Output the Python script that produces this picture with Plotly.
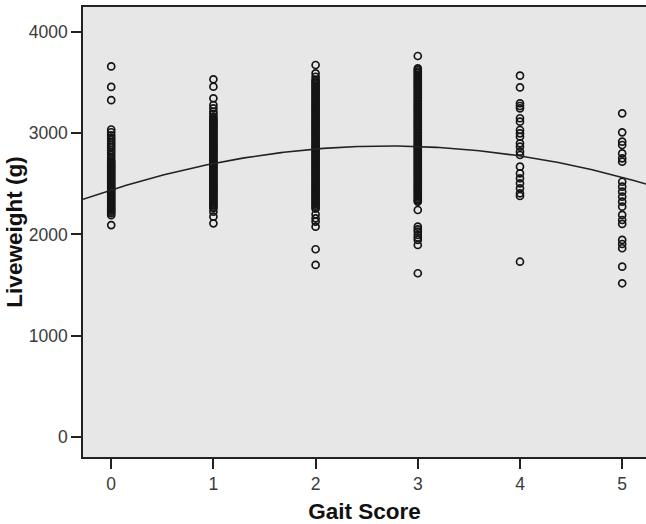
import plotly.graph_objects as go

# Gait score categories
scores = [0, 1, 2, 3, 4, 5]

# Liveweight (g) values, per gait score
lw_score0 = [3660, 3458, 3327,
             3037, 3010, 2980, 2955, 2932, 2905, 2882, 2860, 2833, 2810, 2784, 2760,
             2735, 2720, 2705, 2690, 2675, 2660, 2645, 2630, 2615, 2600, 2585,
             2570, 2555, 2540, 2525, 2510, 2495, 2480, 2465, 2450, 2435, 2420,
             2405, 2390, 2375, 2360, 2345, 2330, 2315, 2300, 2285, 2270, 2255,
             2240, 2225, 2210,
             2191, 2093]
lw_score1 = [3533, 3460, 3345, 3279, 3246, 3213, 3190, 3163, 3145,
             3130, 3115, 3100, 3085, 3070, 3055, 3040, 3025, 3010, 2995, 2980,
             2965, 2950, 2935, 2920, 2905, 2890, 2875, 2860, 2845, 2830, 2815,
             2800, 2785, 2770, 2755, 2740, 2725, 2710, 2695, 2680, 2665, 2650,
             2635, 2620, 2605, 2590, 2575, 2560, 2545, 2530, 2515, 2500, 2485,
             2470, 2455, 2440, 2425, 2410, 2395, 2380, 2365, 2350, 2335, 2320,
             2305, 2290, 2275, 2260,
             2225, 2176, 2110]
lw_score2 = [3674, 3592, 3558,
             3530, 3515, 3500, 3485, 3470, 3455, 3440, 3425, 3410, 3395, 3380,
             3365, 3350, 3335, 3320, 3305, 3290, 3275, 3260, 3245, 3230, 3215,
             3200, 3185, 3170, 3155, 3140, 3125, 3110, 3095, 3080, 3065, 3050,
             3035, 3020, 3005, 2990, 2975, 2960, 2945, 2930, 2915, 2900, 2885,
             2870, 2855, 2840, 2825, 2810, 2795, 2780, 2765, 2750, 2735, 2720,
             2705, 2690, 2675, 2660, 2645, 2630, 2615, 2600, 2585, 2570, 2555,
             2540, 2525, 2510, 2495, 2480, 2465, 2450, 2435, 2420, 2405, 2390,
             2375, 2360, 2345, 2330, 2315, 2300, 2285, 2270, 2255,
             2200, 2160, 2127, 2077, 1854, 1699]
lw_score3 = [3763,
             3640, 3625, 3610, 3595, 3580, 3565, 3550, 3535, 3520, 3505, 3490,
             3475, 3460, 3445, 3430, 3415, 3400, 3385, 3370, 3355, 3340, 3325,
             3310, 3295, 3280, 3265, 3250, 3235, 3220, 3205, 3190, 3175, 3160,
             3145, 3130, 3115, 3100, 3085, 3070, 3055, 3040, 3025, 3010, 2995,
             2980, 2965, 2950, 2935, 2920, 2905, 2890, 2875, 2860, 2845, 2830,
             2815, 2800, 2785, 2770, 2755, 2740, 2725, 2710, 2695, 2680, 2665,
             2650, 2635, 2620, 2605, 2590, 2575, 2560, 2545, 2530, 2515, 2500,
             2485, 2470, 2455, 2440, 2425, 2410, 2395, 2380, 2365, 2350, 2335,
             2325,
             2242, 2077, 2050, 2028, 1995, 1970, 1946, 1896, 1617]
lw_score4 = [3569, 3453, 3296, 3269, 3246, 3148, 3114, 3032, 2999, 2966,
             2900, 2867, 2818, 2785, 2670, 2604, 2555, 2505, 2456, 2407, 2380,
             1731]
lw_score5 = [3197, 3009, 2917, 2884, 2801, 2752, 2719, 2521, 2472, 2423,
             2373, 2324, 2275, 2193, 2143, 2104, 1946, 1906, 1864, 1682, 1518]

# Quadratic fit line coefficients (intercept, linear, quadratic)
fit_coef = [2440, 320, -59]
fit_x_range = [-0.276, 5.233]

y_ticks = [0, 1000, 2000, 3000, 4000]

groups = [lw_score0, lw_score1, lw_score2, lw_score3, lw_score4, lw_score5]
xs, ys = [], []
for s, vals in zip(scores, groups):
    xs += [s] * len(vals)
    ys += vals

fig = go.Figure()
fig.add_trace(go.Scatter(
    x=xs, y=ys, mode="markers",
    marker=dict(symbol="circle-open", size=7, color="#151515",
                line=dict(width=1.7, color="#151515")),
    hoverinfo="skip", showlegend=False))

n = 200
cx = [fit_x_range[0] + (fit_x_range[1] - fit_x_range[0]) * i / (n - 1) for i in range(n)]
cy = [fit_coef[0] + fit_coef[1] * v + fit_coef[2] * v * v for v in cx]
fig.add_trace(go.Scatter(x=cx, y=cy, mode="lines",
                         line=dict(color="#222222", width=1.6),
                         hoverinfo="skip", showlegend=False))

font_family = "Liberation Sans, Arial, sans-serif"
fig.update_layout(
    width=646, height=524,
    margin=dict(l=83, r=0, t=7, b=67),
    paper_bgcolor="white",
    plot_bgcolor="#e7e7e7",
    font=dict(family=font_family, size=17, color="#333333"),
    xaxis=dict(
        range=fit_x_range, tickvals=scores, ticktext=[str(s) for s in scores],
        automargin=False,
        showgrid=False, zeroline=False,
        showline=True, linecolor="#222222", linewidth=1.5, mirror=True,
        ticks="outside", ticklen=10, tickwidth=1.5, tickcolor="#222222",
        tickfont=dict(size=17.5, color="#3a3a3a"),
        title=dict(text="Gait Score", standoff=10,
                   font=dict(size=22.5, color="#111111", weight="bold")),
    ),
    yaxis=dict(
        range=[-198, 4247], tickvals=y_ticks,
        automargin=False,
        showgrid=False, zeroline=False,
        showline=True, linecolor="#222222", linewidth=1.5,
        ticks="outside", ticklen=10, tickwidth=1.5, tickcolor="#222222",
        tickfont=dict(size=17.5, color="#3a3a3a"),
        title=dict(text="Liveweight (g)", standoff=0,
                   font=dict(size=22.5, color="#111111", weight="bold")),
    ),
)

fig.write_html("out.html", config={"displayModeBar": False},
               post_script="document.body.style.margin='0';document.body.style.overflow='hidden';")
